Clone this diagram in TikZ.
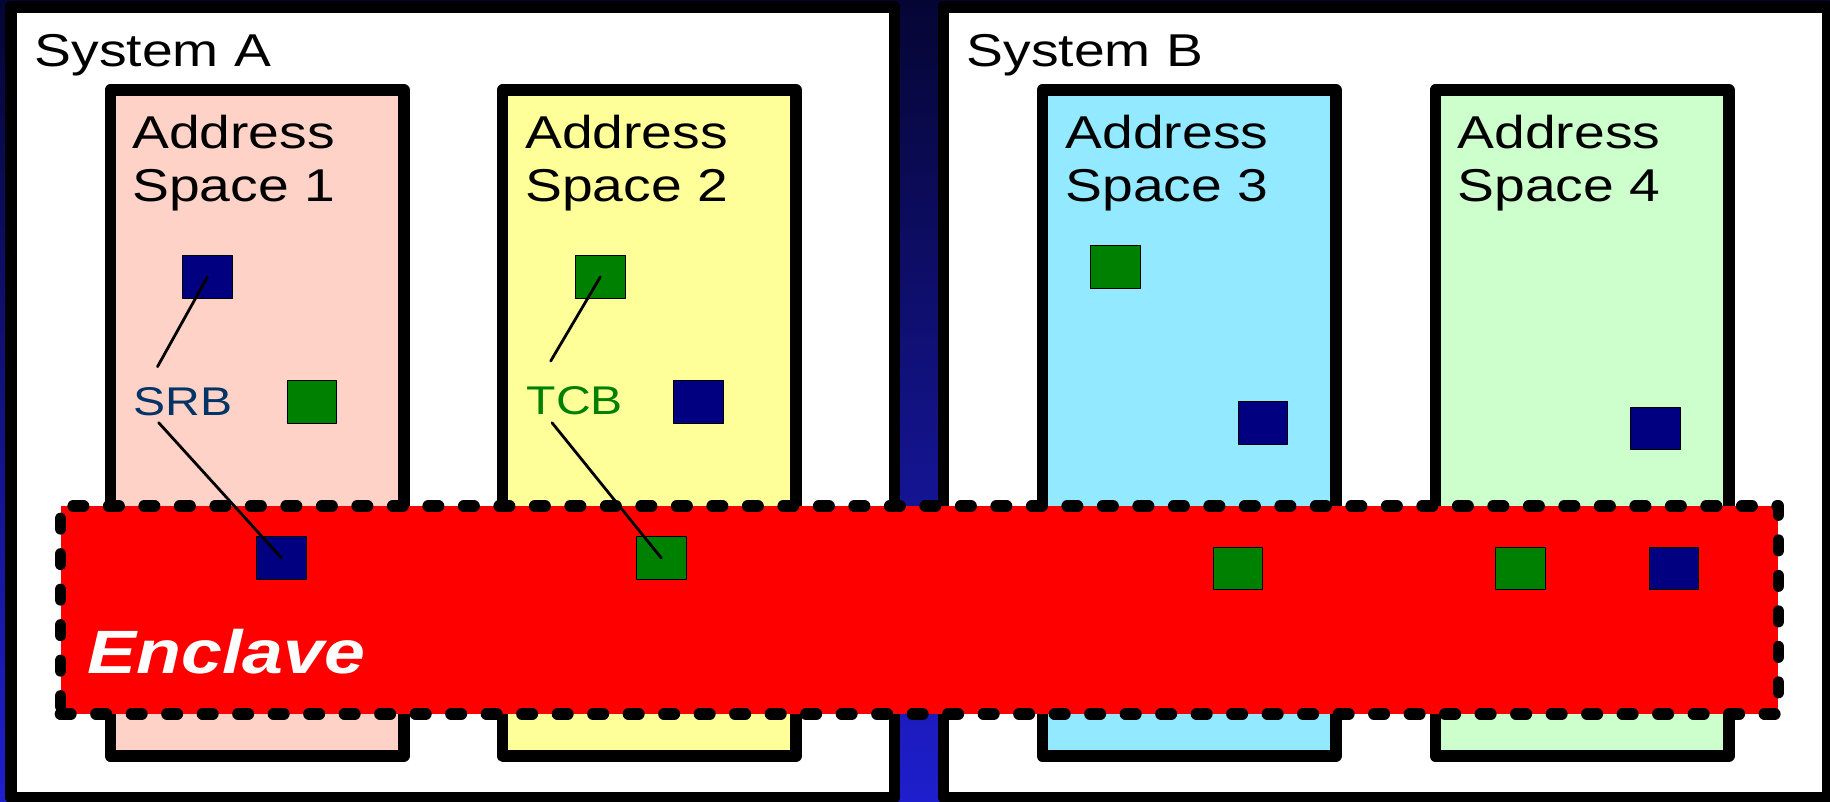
\documentclass[tikz,border=0pt]{standalone}
\usepackage{fontspec}
\setmainfont[FakeStretch=1.2]{Liberation Sans}
\definecolor{bgtop}{RGB}{5,5,52}
\definecolor{bgbot}{RGB}{30,30,205}
\definecolor{aspink}{HTML}{FFD2C8}
\definecolor{asyellow}{HTML}{FFFF99}
\definecolor{ascyan}{HTML}{93E9FF}
\definecolor{asgreen}{HTML}{CCFFCC}
\definecolor{sqblue}{HTML}{000080}
\definecolor{sqgreen}{HTML}{008000}
\definecolor{srbblue}{HTML}{003366}
\begin{document}
\begin{tikzpicture}[x=0.1mm, y=-0.1mm, line join=round, line cap=round,
    font=\fontsize{13.1}{15.2}\selectfont,
    sysbox/.style={draw=black, fill=white, line width=1.15mm, inner sep=0pt,
      minimum width=88.4mm, minimum height=79.05mm},
    asbox/.style={draw=black, line width=1.15mm, inner sep=0pt,
      minimum width=29.35mm, minimum height=66.6mm},
    txt/.style={anchor=base west, inner sep=0pt},
    sq/.style={draw=black, line width=0.1mm, inner sep=0pt,
      minimum width=4.96mm, minimum height=4.23mm},
    bsq/.style={sq, fill=sqblue},
    gsq/.style={sq, fill=sqgreen},
    conn/.style={draw=black, line width=0.28mm}]
  \useasboundingbox (0,0) rectangle (1830,801);
  \clip (0,0) rectangle (1830,801);
  \shade[top color=bgtop, bottom color=bgbot] (0,0) rectangle (1830,801);

  % systems
  \node[sysbox] (sysA) at (452.75,402.25) {};
  \node[sysbox] (sysB) at (1385.5,402.25) {};
  \node[txt] (labA) at (34,66.7) {System A};
  \node[txt] (labB) at (966,66.7) {System B};

  % address spaces
  \node[asbox, fill=aspink] (as1) at (257,423) {};
  \node[asbox, fill=asyellow] (as2) at (649.4,423) {};
  \node[asbox, fill=ascyan] (as3) at (1189.1,423) {};
  \node[asbox, fill=asgreen] (as4) at (1582,423) {};
  \node[txt, align=left] (lab1) at (131.5,201.7) {Address\\Space 1};
  \node[txt, align=left] (lab2) at (524.5,201.7) {Address\\Space 2};
  \node[txt, align=left] (lab3) at (1065,201.7) {Address\\Space 3};
  \node[txt, align=left] (lab4) at (1457,201.7) {Address\\Space 4};

  \node[bsq] (b1) at (207.4,277) {};
  \node[gsq] (g1) at (312,402) {};
  \node[gsq] (g2) at (600.3,277) {};
  \node[bsq] (b2) at (698.3,402) {};
  \node[gsq] (g3) at (1115.7,266.9) {};
  \node[bsq] (b3) at (1263,423) {};
  \node[bsq] (b4) at (1655.3,428.3) {};

  \node[txt, text=srbblue, font=\fontsize{11.4}{13}\selectfont] (srb) at (133,415) {SRB};
  \node[txt, text=sqgreen, font=\fontsize{11.4}{13}\selectfont] (tcb) at (526,414) {TCB};

  % enclave
  \node[draw=black, fill=red, line width=1.17mm, dash pattern=on 1.03mm off 2.52mm,
    inner sep=0pt, minimum width=171.8mm, minimum height=20.8mm] (encl) at (919.5,610) {};
  \node[txt, text=white, font=\fontsize{17.4}{20}\selectfont\bfseries\itshape] (enclab) at (87,673.3) {Enclave};

  \node[bsq] (eb1) at (281.5,558) {};
  \node[gsq] (eg1) at (661.3,558) {};
  \node[gsq] (eg2) at (1238,568.8) {};
  \node[gsq] (eg3) at (1520.6,568.8) {};
  \node[bsq] (eb2) at (1673.8,568.8) {};

  % control block pointers
  \coordinate (srbup) at (157.5,366.7);
  \coordinate (srbdn) at (158.7,422.7);
  \coordinate (tcbup) at (550.7,361);
  \coordinate (tcbdn) at (552,422.7);
  \draw[conn] (b1.center) -- (srbup);
  \draw[conn] (srbdn) -- (eb1.center);
  \draw[conn] (g2.center) -- (tcbup);
  \draw[conn] (tcbdn) -- (eg1.center);
\end{tikzpicture}
\end{document}
